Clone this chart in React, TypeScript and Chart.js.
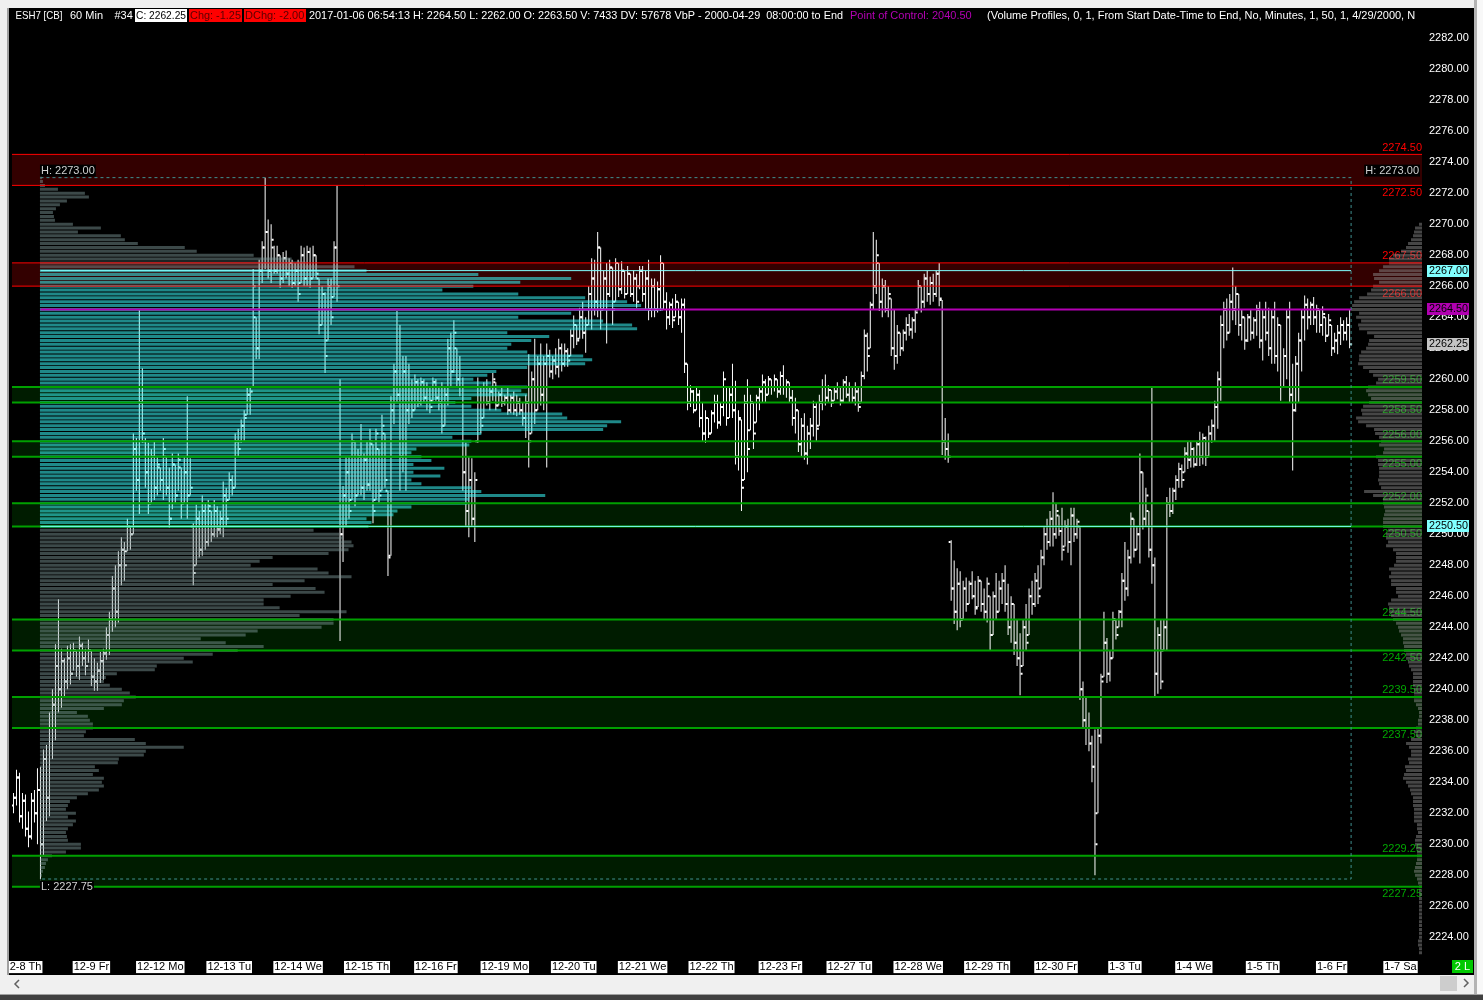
import React, { useEffect, useRef } from 'react';
import { Chart, registerables } from 'chart.js';

Chart.register(...registerables);

const FONT = '"Liberation Sans", Arial, sans-serif';

// ---------------- data ----------------
const DAY_LABELS = ['12-8 Th', '12-9 Fr', '12-12 Mo', '12-13 Tu', '12-14 We', '12-15 Th', '12-16 Fr', '12-19 Mo', '12-20 Tu', '12-21 We', '12-22 Th', '12-23 Fr', '12-27 Tu', '12-28 We', '12-29 Th', '12-30 Fr', '1-3 Tu', '1-4 We', '1-5 Th', '1-6 Fr', '1-7 Sa'];
const DAY_TICKS = [3, 26, 49, 72, 95, 118, 141, 164, 187, 210, 233, 256, 279, 302, 325, 348, 371, 394, 417, 440, 463];
const Y_TICKS = [2224, 2226, 2228, 2230, 2232, 2234, 2236, 2238, 2240, 2242, 2244, 2246, 2248, 2250, 2252, 2254, 2256, 2258, 2260, 2262, 2264, 2266, 2268, 2270, 2272, 2274, 2276, 2278, 2280, 2282];

const HIGHS = [
  2233.3, 2234.8, 2234.6, 2233.3, 2233.2, 2232.1, 2233.3, 2233.5, 2234.9, 2235.0,
  2236.1, 2236.4, 2238.5, 2240.0, 2242.9, 2245.8, 2242.6, 2242.0, 2242.8, 2242.9,
  2243.0, 2242.5, 2243.4, 2243.0, 2242.6, 2243.2, 2242.5, 2242.0, 2241.7, 2242.4,
  2242.6, 2244.0, 2245.0, 2247.3, 2248.0, 2248.9, 2249.8, 2249.5, 2251.0, 2250.5,
  2256.5, 2256.2, 2264.5, 2260.7, 2256.2, 2255.9, 2255.5, 2256.0, 2255.0, 2254.3,
  2256.2, 2255.0, 2254.3, 2255.2, 2254.5, 2255.2, 2254.3, 2255.0, 2258.9, 2254.9,
  2250.7, 2251.9, 2251.5, 2252.5, 2252.0, 2252.2, 2251.5, 2252.2, 2251.8, 2251.5,
  2253.4, 2253.0, 2254.0, 2253.8, 2256.5, 2256.8, 2257.4, 2258.0, 2259.5, 2259.5,
  2267.1, 2264.0, 2267.7, 2268.9, 2273.0, 2270.3, 2270.0, 2268.6, 2268.6, 2268.0,
  2268.2, 2268.3, 2267.8, 2267.7, 2267.5, 2267.7, 2268.6, 2268.5, 2268.6, 2268.5,
  2268.6, 2268.0, 2266.5, 2266.0, 2265.6, 2266.5, 2266.5, 2268.9, 2272.5, 2260.0,
  2253.1, 2255.0, 2255.0, 2256.5, 2256.0, 2255.5, 2257.1, 2255.2, 2256.0, 2256.8,
  2255.8, 2256.8, 2255.5, 2257.7, 2256.5, 2252.8, 2258.9, 2261.0, 2264.4, 2263.5,
  2261.5, 2261.5, 2261.0, 2260.0, 2260.3, 2260.0, 2260.1, 2260.0, 2259.8, 2259.5,
  2260.1, 2260.0, 2259.5, 2259.8, 2259.5, 2262.6, 2263.0, 2263.8, 2262.0, 2261.5,
  2260.1, 2255.9, 2255.0, 2254.9, 2254.0, 2260.1, 2259.5, 2259.8, 2260.0, 2259.5,
  2260.4, 2259.8, 2259.2, 2259.5, 2259.0, 2259.5, 2259.0, 2259.2, 2259.0, 2258.8,
  2258.5, 2259.0, 2261.6, 2260.5, 2262.6, 2261.5, 2262.3, 2261.5, 2262.3, 2261.9,
  2261.5, 2262.0, 2262.6, 2262.3, 2262.3, 2262.0, 2263.2, 2264.1, 2263.5, 2264.6,
  2265.0, 2264.0, 2266.0, 2267.8, 2267.7, 2269.5, 2268.5, 2267.0, 2267.5, 2267.7,
  2267.2, 2267.8, 2267.5, 2267.6, 2267.0, 2267.3, 2266.8, 2267.0, 2266.8, 2267.3,
  2267.3, 2267.0, 2267.7, 2266.5, 2266.5, 2266.3, 2268.0, 2267.5, 2265.6, 2265.0,
  2265.2, 2265.5, 2265.0, 2265.2, 2265.2, 2261.0, 2259.6, 2259.3, 2259.5, 2259.3,
  2258.5, 2258.0, 2257.5, 2258.0, 2259.0, 2259.0, 2258.5, 2260.5, 2259.5, 2259.5,
  2261.0, 2259.9, 2258.0, 2257.4, 2259.0, 2260.0, 2259.0, 2258.5, 2259.0, 2259.5,
  2260.3, 2260.0, 2260.2, 2260.0, 2260.3, 2260.0, 2260.5, 2260.9, 2260.0, 2259.8,
  2259.3, 2258.8, 2258.0, 2257.5, 2257.8, 2257.0, 2257.5, 2258.6, 2258.5, 2259.0,
  2260.0, 2260.3, 2259.6, 2259.3, 2259.5, 2259.8, 2259.5, 2260.0, 2260.2, 2259.8,
  2259.5, 2259.8, 2259.5, 2260.5, 2263.2, 2263.0, 2265.0, 2269.5, 2269.0, 2267.5,
  2266.5, 2266.4, 2266.0, 2265.2, 2264.5, 2263.5, 2263.0, 2263.2, 2264.0, 2264.2,
  2264.0, 2264.5, 2266.4, 2266.0, 2266.8, 2267.0, 2266.6, 2266.8, 2267.0, 2267.5,
  2265.1, 2257.5, 2256.5, 2249.6, 2248.3, 2247.8, 2247.6, 2247.0, 2247.2, 2247.0,
  2247.6, 2247.0, 2247.3, 2247.0, 2246.5, 2247.2, 2246.0, 2246.3, 2247.5, 2247.0,
  2247.5, 2248.0, 2246.8, 2246.0, 2245.5, 2244.5, 2243.6, 2244.5, 2245.5, 2246.5,
  2247.0, 2247.5, 2248.0, 2249.0, 2250.5, 2251.0, 2251.5, 2252.7, 2252.0, 2251.2,
  2251.7, 2250.9, 2251.0, 2251.7, 2251.7, 2251.0, 2250.5, 2240.5, 2239.5, 2238.5,
  2237.0, 2237.4, 2237.5, 2241.0, 2245.0, 2243.3, 2242.5, 2245.0, 2244.5, 2245.1,
  2247.5, 2249.5, 2249.0, 2251.4, 2251.0, 2250.5, 2255.2, 2254.0, 2253.0, 2251.5,
  2259.5, 2248.5, 2244.0, 2244.5, 2244.5, 2252.4, 2253.0, 2253.0, 2253.8, 2254.6,
  2254.5, 2255.6, 2256.0, 2256.0, 2255.6, 2256.0, 2256.6, 2256.5, 2256.3, 2257.0,
  2257.4, 2258.6, 2260.5, 2264.1, 2265.0, 2265.2, 2265.5, 2267.2, 2266.0, 2265.5,
  2264.5, 2264.0, 2264.2, 2264.5, 2264.0, 2264.8, 2265.0, 2264.5, 2265.0, 2264.6,
  2264.5, 2265.0, 2264.0, 2263.5, 2262.0, 2264.5, 2265.0, 2261.0, 2261.5, 2263.0,
  2264.5, 2265.4, 2265.2, 2265.0, 2265.3, 2264.8, 2264.5, 2264.7, 2264.0, 2264.2,
  2263.5, 2263.0, 2263.5, 2264.0, 2263.8, 2264.0, 2264.5,
];

const LOWS = [
  2232.0, 2232.5, 2231.4, 2231.0, 2230.5, 2229.8, 2230.3, 2231.4, 2230.0, 2227.75,
  2229.3, 2231.5, 2231.8, 2235.5, 2236.7, 2238.5, 2238.8, 2239.5, 2240.0, 2240.3,
  2241.2, 2240.8, 2240.6, 2241.5, 2240.9, 2241.7, 2240.2, 2239.9, 2239.9, 2240.4,
  2240.6, 2241.9, 2242.2, 2243.7, 2244.0, 2244.3, 2246.7, 2247.0, 2248.9, 2249.0,
  2250.0, 2252.8, 2251.3, 2255.9, 2253.0, 2251.3, 2252.0, 2252.2, 2252.5, 2252.8,
  2252.2, 2252.5, 2250.4, 2251.6, 2252.0, 2252.8, 2251.0, 2252.0, 2251.0, 2252.5,
  2246.7, 2248.0, 2248.5, 2248.6, 2249.0, 2249.2, 2249.5, 2249.8, 2249.8, 2250.0,
  2249.8, 2250.5, 2252.2, 2252.5, 2253.0, 2255.0, 2255.9, 2256.0, 2257.7, 2257.7,
  2259.5, 2261.3, 2261.3, 2266.2, 2267.1, 2266.5, 2266.2, 2266.8, 2266.8, 2265.9,
  2266.2, 2266.5, 2266.0, 2265.9, 2266.0, 2265.0, 2266.2, 2266.0, 2266.0, 2265.9,
  2266.5, 2266.5, 2262.9, 2263.5, 2260.4, 2262.5, 2263.5, 2265.3, 2265.0, 2243.1,
  2248.2, 2250.5, 2251.0, 2252.2, 2251.8, 2252.5, 2252.5, 2252.2, 2252.8, 2252.8,
  2250.7, 2252.2, 2252.0, 2252.8, 2253.0, 2247.3, 2248.6, 2257.1, 2258.5, 2252.8,
  2254.0, 2252.8, 2257.1, 2257.5, 2258.0, 2258.2, 2258.3, 2258.5, 2258.0, 2257.8,
  2258.6, 2258.6, 2258.0, 2256.5, 2257.0, 2258.3, 2259.5, 2260.4, 2259.5, 2258.9,
  2252.8, 2250.5, 2249.8, 2250.5, 2249.5, 2255.9, 2256.5, 2257.5, 2258.3, 2258.0,
  2258.6, 2258.0, 2258.3, 2258.2, 2258.3, 2257.7, 2257.8, 2257.7, 2257.6, 2257.7,
  2257.0, 2256.2, 2254.3, 2256.5, 2257.1, 2258.0, 2258.3, 2258.0, 2254.3, 2260.1,
  2260.0, 2260.3, 2260.1, 2260.5, 2260.8, 2260.8, 2261.5, 2262.0, 2262.2, 2262.6,
  2262.6, 2261.7, 2263.5, 2263.2, 2264.1, 2264.0, 2263.2, 2264.5, 2262.3, 2265.3,
  2263.5, 2265.0, 2265.3, 2265.5, 2265.2, 2265.5, 2265.3, 2265.0, 2264.6, 2265.8,
  2265.0, 2264.5, 2263.8, 2264.0, 2264.0, 2264.3, 2264.4, 2264.5, 2263.2, 2263.5,
  2263.3, 2264.0, 2263.5, 2263.0, 2260.4, 2258.0, 2258.2, 2257.8, 2258.0, 2256.9,
  2256.0, 2255.9, 2256.2, 2256.5, 2257.2, 2256.8, 2257.0, 2257.6, 2257.0, 2257.5,
  2257.5, 2254.5, 2254.1, 2251.5, 2253.5, 2254.0, 2256.7, 2255.5, 2257.2, 2258.0,
  2258.5, 2258.5, 2259.0, 2259.0, 2259.2, 2258.8, 2259.0, 2259.0, 2258.8, 2258.5,
  2257.0, 2256.5, 2255.3, 2255.0, 2254.8, 2254.5, 2255.5, 2256.3, 2256.0, 2257.0,
  2258.0, 2258.3, 2258.5, 2258.2, 2258.6, 2258.7, 2258.3, 2258.5, 2258.8, 2258.5,
  2258.5, 2258.3, 2257.9, 2258.5, 2260.0, 2260.5, 2262.0, 2264.5, 2265.5, 2264.4,
  2264.0, 2264.3, 2264.0, 2261.5, 2260.6, 2261.0, 2261.5, 2261.8, 2262.5, 2262.8,
  2262.6, 2263.0, 2264.5, 2264.3, 2264.6, 2265.0, 2264.8, 2265.0, 2265.3, 2264.7,
  2255.1, 2254.8, 2254.6, 2245.7, 2244.2, 2243.8, 2244.0, 2244.5, 2245.0, 2245.5,
  2245.8, 2244.8, 2245.3, 2245.0, 2244.5, 2244.3, 2242.5, 2243.5, 2244.5, 2245.0,
  2245.5, 2245.0, 2243.5, 2243.0, 2242.2, 2241.5, 2239.6, 2241.5, 2242.5, 2243.5,
  2244.8, 2245.3, 2245.5, 2246.5, 2248.0, 2249.0, 2249.2, 2249.2, 2249.7, 2249.9,
  2248.3, 2249.2, 2248.8, 2248.0, 2249.5, 2249.7, 2239.3, 2237.5, 2236.4, 2236.0,
  2234.0, 2228.0, 2232.0, 2236.5, 2240.8, 2240.4, 2240.5, 2242.0, 2243.2, 2244.0,
  2244.0, 2245.7, 2246.0, 2248.1, 2248.5, 2249.0, 2248.1, 2250.3, 2250.5, 2248.5,
  2246.8, 2239.5, 2239.7, 2240.0, 2242.5, 2242.5, 2251.1, 2251.3, 2252.2, 2253.0,
  2253.0, 2254.0, 2254.2, 2254.3, 2254.3, 2254.4, 2254.4, 2254.5, 2254.4, 2255.0,
  2255.9, 2256.0, 2256.8, 2258.6, 2262.0, 2262.5, 2263.0, 2263.8, 2263.5, 2262.8,
  2262.5, 2261.9, 2262.4, 2262.5, 2262.6, 2262.8, 2262.0, 2261.2, 2262.5, 2261.5,
  2261.0, 2261.0, 2260.5, 2258.6, 2259.5, 2260.0, 2258.5, 2254.1, 2257.9, 2258.5,
  2260.5, 2262.5, 2263.2, 2263.5, 2263.5, 2263.0, 2263.0, 2262.8, 2262.4, 2262.8,
  2261.5, 2261.7, 2261.6, 2262.2, 2262.5, 2262.5, 2262.0,
];

const OPENS = [
  2232.5, 2233.0, 2234.3, 2231.8, 2232.8, 2231.0, 2230.5, 2232.8, 2232.0, 2233.5,
  2230.0, 2235.5, 2233.0, 2237.5, 2239.0, 2241.5, 2240.0, 2241.8, 2240.5, 2242.0,
  2241.0, 2242.5, 2241.5, 2242.8, 2242.0, 2241.5, 2242.5, 2240.8, 2240.5, 2241.2,
  2241.8, 2242.3, 2243.5, 2244.5, 2246.5, 2245.0, 2248.0, 2249.0, 2248.9, 2250.5,
  2250.0, 2255.5, 2253.5, 2258.5, 2256.0, 2254.0, 2252.0, 2255.0, 2253.0, 2254.3,
  2253.5, 2255.0, 2253.0, 2251.0, 2254.5, 2252.5, 2254.3, 2252.0, 2254.0, 2252.5,
  2250.5, 2248.0, 2251.0, 2249.0, 2251.5, 2249.5, 2251.5, 2250.0, 2251.5, 2250.3,
  2251.0, 2252.5, 2252.2, 2253.5, 2253.0, 2256.0, 2256.0, 2257.0, 2257.7, 2259.0,
  2259.5, 2264.0, 2262.0, 2267.0, 2268.5, 2269.5, 2267.0, 2268.5, 2267.0, 2268.0,
  2266.5, 2267.8, 2266.8, 2267.5, 2266.2, 2267.0, 2266.2, 2268.0, 2266.5, 2268.2,
  2266.5, 2268.0, 2266.5, 2263.5, 2265.5, 2262.5, 2266.0, 2265.3, 2268.5, 2259.5,
  2250.0, 2252.5, 2254.0, 2252.2, 2256.0, 2252.5, 2255.0, 2253.0, 2254.8, 2253.2,
  2255.8, 2252.2, 2255.5, 2252.8, 2256.5, 2252.8, 2248.6, 2258.0, 2260.5, 2259.0,
  2255.0, 2260.5, 2258.0, 2259.5, 2258.0, 2259.8, 2258.5, 2259.8, 2258.8, 2259.5,
  2258.6, 2259.8, 2258.8, 2258.5, 2257.0, 2259.0, 2262.0, 2260.5, 2262.0, 2260.0,
  2259.5, 2254.0, 2251.5, 2253.5, 2251.0, 2256.0, 2259.5, 2257.5, 2259.5, 2258.5,
  2259.2, 2259.8, 2258.3, 2259.0, 2258.5, 2258.8, 2258.0, 2258.8, 2258.0, 2258.5,
  2258.0, 2257.5, 2258.5, 2256.5, 2260.0, 2258.0, 2261.0, 2259.0, 2261.0, 2261.5,
  2260.5, 2261.2, 2260.8, 2262.0, 2261.0, 2261.8, 2261.5, 2262.8, 2263.5, 2262.6,
  2264.0, 2263.0, 2263.5, 2265.5, 2266.5, 2265.0, 2268.5, 2264.5, 2266.5, 2265.5,
  2267.2, 2265.0, 2267.5, 2265.8, 2267.0, 2265.5, 2266.8, 2265.5, 2266.5, 2266.0,
  2267.0, 2265.5, 2266.5, 2264.5, 2266.0, 2264.5, 2265.8, 2267.5, 2265.0, 2264.0,
  2264.8, 2264.0, 2265.0, 2264.0, 2264.8, 2261.0, 2258.5, 2259.2, 2258.0, 2259.0,
  2257.5, 2256.5, 2257.5, 2256.5, 2257.8, 2258.5, 2257.2, 2258.2, 2259.5, 2257.5,
  2259.0, 2258.0, 2255.0, 2257.4, 2253.5, 2258.5, 2256.7, 2258.5, 2257.2, 2258.8,
  2259.2, 2259.8, 2259.0, 2260.0, 2259.5, 2260.0, 2259.2, 2260.2, 2259.5, 2259.8,
  2258.8, 2257.5, 2258.0, 2255.8, 2257.0, 2255.2, 2256.5, 2257.0, 2258.2, 2257.0,
  2258.5, 2259.5, 2258.8, 2259.3, 2258.6, 2259.2, 2259.5, 2258.6, 2259.8, 2259.0,
  2259.5, 2258.8, 2259.2, 2258.5, 2260.2, 2262.8, 2262.0, 2264.8, 2266.0, 2267.5,
  2265.0, 2266.0, 2264.5, 2265.2, 2262.0, 2261.5, 2263.0, 2262.0, 2263.0, 2263.5,
  2263.2, 2263.8, 2264.5, 2266.0, 2265.0, 2266.5, 2265.5, 2266.2, 2265.5, 2266.8,
  2265.1, 2256.0, 2255.5, 2249.5, 2246.5, 2245.0, 2246.8, 2244.5, 2246.5, 2245.5,
  2246.8, 2246.0, 2245.3, 2247.0, 2245.5, 2245.0, 2246.0, 2243.5, 2246.0, 2245.0,
  2246.5, 2247.0, 2245.5, 2244.0, 2245.5, 2243.0, 2242.0, 2241.5, 2244.0, 2243.5,
  2246.0, 2245.5, 2247.0, 2246.5, 2248.5, 2250.0, 2249.5, 2251.0, 2250.0, 2251.2,
  2250.2, 2249.2, 2250.5, 2249.5, 2251.2, 2250.0, 2250.5, 2240.0, 2238.0, 2237.5,
  2236.5, 2235.0, 2232.0, 2237.0, 2240.8, 2243.0, 2241.0, 2242.0, 2244.5, 2244.0,
  2245.0, 2247.0, 2246.5, 2248.5, 2251.0, 2249.0, 2250.0, 2254.0, 2251.0, 2251.5,
  2249.0, 2248.0, 2241.0, 2243.5, 2242.5, 2244.0, 2252.0, 2251.5, 2252.8, 2253.5,
  2254.2, 2254.0, 2255.2, 2254.8, 2255.5, 2254.5, 2255.8, 2255.0, 2256.2, 2255.0,
  2256.5, 2257.0, 2258.2, 2260.0, 2263.5, 2264.5, 2263.0, 2265.0, 2264.5, 2265.5,
  2263.5, 2264.0, 2262.5, 2264.0, 2263.0, 2263.8, 2264.5, 2262.5, 2264.0, 2263.0,
  2262.0, 2264.0, 2261.5, 2263.5, 2259.5, 2261.5, 2264.0, 2259.0, 2258.0, 2261.0,
  2262.5, 2264.0, 2264.8, 2264.0, 2264.8, 2264.0, 2264.5, 2263.5, 2264.0, 2262.8,
  2263.5, 2262.0, 2262.5, 2263.0, 2263.5, 2263.0, 2263.5,
];

const CLOSES = [
  2233.0, 2234.3, 2231.8, 2232.8, 2231.0, 2230.5, 2232.8, 2232.0, 2233.5, 2230.0,
  2235.5, 2233.0, 2237.5, 2239.0, 2241.5, 2240.0, 2241.8, 2240.5, 2242.0, 2241.0,
  2242.5, 2241.5, 2242.8, 2242.0, 2241.5, 2242.5, 2240.8, 2240.5, 2241.2, 2241.8,
  2242.3, 2243.5, 2244.5, 2246.5, 2245.0, 2248.0, 2249.0, 2248.0, 2250.5, 2250.0,
  2255.5, 2253.5, 2258.5, 2256.5, 2254.0, 2252.0, 2255.0, 2253.0, 2254.5, 2253.5,
  2255.5, 2253.0, 2251.0, 2254.5, 2252.5, 2254.8, 2252.0, 2254.0, 2252.5, 2253.0,
  2247.5, 2251.0, 2249.0, 2251.5, 2249.5, 2251.8, 2250.0, 2251.5, 2250.3, 2251.0,
  2252.5, 2251.0, 2253.5, 2253.0, 2256.0, 2255.5, 2257.0, 2257.5, 2259.0, 2259.2,
  2266.0, 2262.0, 2267.0, 2268.5, 2269.5, 2267.0, 2269.0, 2267.0, 2268.0, 2266.5,
  2267.8, 2266.8, 2267.5, 2266.2, 2267.0, 2265.5, 2268.0, 2266.5, 2268.2, 2266.5,
  2268.0, 2266.8, 2263.5, 2265.5, 2261.5, 2266.0, 2264.0, 2268.5, 2266.0, 2250.0,
  2252.5, 2254.0, 2251.5, 2256.0, 2252.5, 2255.0, 2253.0, 2254.8, 2253.2, 2256.0,
  2251.5, 2256.5, 2252.5, 2257.0, 2253.5, 2248.5, 2258.0, 2260.5, 2259.0, 2255.0,
  2260.5, 2258.0, 2259.5, 2258.0, 2259.8, 2258.5, 2259.8, 2258.8, 2259.5, 2258.2,
  2259.8, 2258.8, 2258.5, 2257.0, 2259.0, 2262.0, 2260.5, 2263.0, 2260.0, 2259.5,
  2254.0, 2251.5, 2253.5, 2251.0, 2253.5, 2259.5, 2257.0, 2259.5, 2258.5, 2259.2,
  2260.0, 2258.3, 2259.0, 2258.5, 2258.8, 2258.0, 2258.8, 2258.0, 2258.5, 2258.0,
  2257.5, 2258.5, 2256.0, 2260.0, 2258.0, 2261.0, 2259.0, 2261.0, 2261.5, 2260.5,
  2261.2, 2260.8, 2262.0, 2261.0, 2261.8, 2261.2, 2262.8, 2263.5, 2262.5, 2264.0,
  2263.0, 2263.5, 2265.5, 2266.5, 2265.0, 2268.5, 2264.5, 2266.5, 2265.5, 2267.2,
  2264.5, 2267.5, 2265.8, 2267.0, 2265.5, 2266.8, 2265.5, 2266.5, 2265.0, 2267.0,
  2265.5, 2266.5, 2264.5, 2266.0, 2264.5, 2265.8, 2267.5, 2265.0, 2264.0, 2264.8,
  2263.8, 2265.0, 2264.0, 2264.8, 2261.0, 2258.5, 2259.2, 2258.0, 2259.0, 2257.5,
  2256.5, 2257.5, 2256.5, 2257.8, 2258.5, 2257.2, 2258.2, 2260.0, 2257.5, 2259.0,
  2258.0, 2255.0, 2257.5, 2253.0, 2258.5, 2255.5, 2258.5, 2256.5, 2258.8, 2259.2,
  2259.8, 2259.0, 2260.0, 2259.5, 2260.0, 2259.2, 2260.2, 2259.5, 2259.8, 2258.8,
  2257.5, 2258.0, 2255.8, 2257.0, 2255.2, 2256.5, 2257.0, 2258.2, 2256.8, 2258.5,
  2259.5, 2258.8, 2259.3, 2258.5, 2259.2, 2259.5, 2258.6, 2259.8, 2259.0, 2259.5,
  2258.8, 2259.2, 2258.2, 2260.2, 2262.8, 2261.5, 2264.8, 2266.0, 2268.0, 2265.0,
  2266.0, 2264.5, 2265.5, 2262.0, 2261.5, 2263.0, 2262.0, 2263.0, 2263.5, 2263.2,
  2263.8, 2264.3, 2266.0, 2265.0, 2266.5, 2265.5, 2266.2, 2265.5, 2266.8, 2265.2,
  2256.0, 2255.5, 2255.0, 2246.5, 2245.0, 2246.8, 2244.5, 2246.5, 2245.5, 2246.8,
  2246.0, 2245.2, 2247.0, 2245.5, 2245.0, 2246.8, 2243.5, 2246.0, 2245.0, 2246.5,
  2247.0, 2245.5, 2244.0, 2245.5, 2243.0, 2242.0, 2241.0, 2244.0, 2243.0, 2246.0,
  2245.5, 2247.0, 2246.0, 2248.5, 2250.0, 2249.5, 2251.0, 2250.0, 2251.5, 2250.2,
  2249.0, 2250.5, 2249.5, 2251.2, 2250.0, 2250.8, 2240.0, 2238.0, 2237.5, 2236.5,
  2235.0, 2230.0, 2237.0, 2240.5, 2243.0, 2241.0, 2242.0, 2244.5, 2243.5, 2245.0,
  2247.0, 2246.5, 2248.5, 2251.0, 2249.0, 2250.0, 2254.0, 2251.0, 2252.5, 2249.0,
  2248.0, 2241.0, 2243.5, 2240.5, 2244.0, 2252.0, 2251.5, 2252.8, 2253.5, 2254.2,
  2253.5, 2255.2, 2254.8, 2255.5, 2254.5, 2255.8, 2255.0, 2256.2, 2255.0, 2256.5,
  2257.0, 2258.2, 2260.0, 2263.5, 2264.5, 2263.0, 2265.0, 2264.5, 2265.5, 2263.5,
  2264.0, 2262.5, 2264.0, 2263.0, 2263.8, 2264.5, 2262.5, 2264.0, 2263.0, 2262.0,
  2264.0, 2261.5, 2263.5, 2259.5, 2261.5, 2264.0, 2259.0, 2258.0, 2261.0, 2262.5,
  2264.0, 2264.8, 2264.0, 2264.8, 2264.0, 2264.5, 2263.5, 2264.2, 2262.8, 2263.8,
  2262.0, 2262.5, 2263.0, 2263.5, 2263.0, 2263.5, 2262.25,
];

// volume profile rows (0.25 per row), left profile from 2273.00 downward
const PROFILE_TOP = 2273.0;
const PROFILE_TICK = 0.25;
const LEFT_PROFILE = [
  2, 3, 5, 18, 45, 49, 27, 20, 16, 13, 14, 15, 33, 61, 38, 81, 85, 98, 145, 157, 214, 252, 266, 315,
  327, 439, 532, 481, 434, 403, 479, 546, 588, 602, 624, 532, 479, 564, 593, 598, 468, 510, 492, 472,
  468, 488, 544, 553, 546, 488, 457, 448, 434, 452, 488, 482, 488, 432, 416, 432, 462, 523, 528, 582,
  568, 564, 442, 413, 432, 430, 377, 372, 382, 392, 374, 405, 374, 401, 372, 382, 432, 442, 506, 430,
  428, 372, 358, 354, 327, 332, 329,
  274, 300, 303, 312, 314, 309, 289, 233, 220, 211, 278, 289, 312, 265, 233, 276, 285, 251, 224, 224,
  240, 307, 260, 294, 294, 282, 218, 206, 161, 186, 224, 198, 173, 144, 153, 117, 115, 77, 66, 64,
  70, 82, 90, 96, 84, 82, 64, 37, 48, 50, 53, 53, 46, 44, 95, 106, 144, 106, 104, 79,
  78, 55, 59, 53, 64, 62, 64, 59, 48, 37, 30, 28, 26, 36, 28, 36, 33, 28, 26, 27,
  28, 41, 41, 26, 12, 8, 6, 5, 3, 2, 1,
];
// right-edge profile from 2270.00 downward
const RIGHT_PROFILE_TOP = 2270.0;
const RIGHT_PROFILE = [
  3, 7, 8, 9, 11, 14, 16, 21, 29, 33, 33, 39, 43, 49, 48, 43, 49, 51, 55, 63, 68, 70, 71, 63, 66, 61, 64, 63, 55, 48, 53, 54, 56, 61, 63, 63, 64, 59, 53, 49,
  44, 46, 54, 56, 54, 51, 53, 59, 61, 60, 66, 64, 56, 48, 47, 43, 41, 43, 38, 39, 46, 44, 44, 43, 43, 43, 44, 43, 41, 58, 49, 39, 39, 38, 37, 38, 39, 39, 39, 34,
  36, 36, 34, 36, 29, 26, 26, 26, 28, 33, 31, 33, 31, 31, 26, 26, 24, 31, 34, 33, 33, 31, 29, 26, 24, 23, 21, 19, 19, 18, 18, 16, 16, 14, 13, 11, 9, 9,
  9, 9, 8, 8, 8, 8, 6, 4, 3, 3, 4, 4, 6, 8, 6, 11, 16, 13, 11, 11, 14, 13, 17, 16, 18, 19, 16, 14, 12, 11, 9, 9, 9, 8, 8, 8, 8, 5, 5, 4,
  6, 7, 7, 6, 5, 5, 5, 6, 7, 8, 7, 5, 4, 3, 3, 3, 3, 3, 3, 3, 3, 3, 3, 3, 3, 3, 3, 4, 4, 3, 3,
];

const VAH = 2267.0;
const VAL = 2250.5;
const POC = 2264.5;
const LAST_PRICE = 2262.25;
const PROFILE_HIGH = 2273.0;
const PROFILE_LOW = 2227.75;
const PROFILE_START_BAR = 9;
const RED_ZONES = [[2274.5, 2272.5], [2267.5, 2266.0]];
const GREEN_ZONES = [[2259.5, 2258.5], [2256.0, 2255.0], [2252.0, 2250.5], [2244.5, 2242.5], [2239.5, 2237.5], [2229.25, 2227.25]];

// ---------------- layout constants ----------------
const X_MIN = -0.5;
const X_MAX = 470.1666667;
const Y_MIN = 2222.75;
const Y_MAX = 2282.75;
const LAST_BAR = HIGHS.length - 1;

function fitText(ctx: CanvasRenderingContext2D, text: string, x: number, y: number, maxW?: number) {
  const w = ctx.measureText(text).width;
  if (maxW && w > maxW) {
    ctx.save();
    ctx.translate(x, y);
    ctx.scale(maxW / w, 1);
    ctx.fillText(text, 0, 0);
    ctx.restore();
  } else {
    ctx.fillText(text, x, y);
  }
}

const overlayPlugin = {
  id: 'overlay',
  beforeDatasetsDraw(chart: any) {
    const ctx: CanvasRenderingContext2D = chart.ctx;
    const y = chart.scales.y;
    const right = chart.chartArea.right;
    ctx.save();
    ctx.font = `11px ${FONT}`;
    ctx.textAlign = 'right';
    const put = (zones: number[][], color: string) => {
      ctx.fillStyle = color;
      zones.forEach(([a, b]) => {
        ctx.textBaseline = 'bottom';
        ctx.fillText(a.toFixed(2), right, y.getPixelForValue(a) - 1);
        ctx.textBaseline = 'top';
        ctx.fillText(b.toFixed(2), right, y.getPixelForValue(b) + 2);
      });
    };
    put(RED_ZONES, '#ff0000');
    put(GREEN_ZONES, '#00a800');
    ctx.restore();
  },
  afterDatasetsDraw(chart: any) {
    const ctx: CanvasRenderingContext2D = chart.ctx;
    const y = chart.scales.y;
    const xl = chart.scales.xl;
    ctx.save();
    ctx.font = `11px ${FONT}`;
    ctx.textBaseline = 'middle';
    const tag = (text: string, x: number, yc: number, alignRight: boolean) => {
      const w = ctx.measureText(text).width + 2;
      const left = alignRight ? x - w : x;
      ctx.fillStyle = '#000';
      ctx.fillRect(left, yc - 6, w, 12);
      ctx.fillStyle = '#d0d0d0';
      ctx.textAlign = 'left';
      ctx.fillText(text, left + 1, yc);
    };
    const x0 = xl.getPixelForValue(0);
    const yH = y.getPixelForValue(PROFILE_HIGH);
    const yL = y.getPixelForValue(PROFILE_LOW);
    tag('H: ' + PROFILE_HIGH.toFixed(2), x0, yH - 7, false);
    tag('H: ' + PROFILE_HIGH.toFixed(2), chart.chartArea.right - 2, yH - 7, true);
    tag('L: ' + PROFILE_LOW.toFixed(2), x0, yL + 8, false);
    ctx.restore();
  },
  afterDraw(chart: any) {
    const ctx: CanvasRenderingContext2D = chart.ctx;
    const y = chart.scales.y;
    const ax = chart.chartArea.right;
    ctx.save();
    ctx.font = `11px ${FONT}`;
    ctx.textBaseline = 'middle';
    ctx.textAlign = 'left';
    // highlighted price labels on the axis
    const hl = (v: number, bg: string, fg: string) => {
      const yc = y.getPixelForValue(v);
      ctx.fillStyle = bg;
      ctx.fillRect(ax + 5, Math.round(yc) - 6, 42, 12);
      ctx.fillStyle = fg;
      fitText(ctx, v.toFixed(2), ax + 7, yc, 39);
    };
    hl(VAH, '#80ffff', '#000');
    hl(POC, '#b000b0', '#000');
    hl(LAST_PRICE, '#c4c4c4', '#000');
    hl(VAL, '#80ffff', '#000');

    // header line
    const ym = 8;
    const seg = (text: string, x: number, w: number, color: string, bg?: string, bw?: number) => {
      if (bg) {
        ctx.fillStyle = bg;
        ctx.fillRect(x, 1, bw as number, 13);
      }
      ctx.fillStyle = color;
      fitText(ctx, text, bg ? x + 1 : x, ym, w);
    };
    seg('ESH7 [CB]', 6.5, 47, '#fff');
    seg('60 Min', 61, 35, '#fff');
    seg('#34', 105.5, 20, '#fff');
    seg('C: 2262.25', 126, 50, '#000', '#ffffff', 52);
    seg('Chg: -1.25', 180, 51, '#5a0000', '#ff0000', 53);
    seg('DChg: -2.00', 235, 60, '#5a0000', '#ff0000', 62);
    seg('2017-01-06 06:54:13 H: 2264.50 L: 2262.00 O: 2263.50 V: 7433 DV: 57678 VbP - 2000-04-29  08:00:00 to End', 300, 534, '#fff');
    seg('Point of Control: 2040.50', 841, 128, '#b400b4');
    seg('(Volume Profiles, 0, 1, From Start Date-Time to End, No, Minutes, 1, 50, 1, 4/29/2000, N', 978, 437, '#fff');

    // bottom-right indicator
    ctx.fillStyle = '#00c800';
    ctx.fillRect(1443, 952, 21, 13);
    ctx.fillStyle = '#fff';
    ctx.textAlign = 'center';
    ctx.fillText('2 L', 1453.5, 958.5);
    ctx.restore();
  },
};

function buildDatasets() {
  const ds: any[] = [];
  const flat = (level: number, color: string, width: number, x0: number, x1: number, order: number, dash?: number[]) => ({
    type: 'line',
    data: [{ x: x0, y: level }, { x: x1, y: level }],
    borderColor: color,
    borderWidth: width,
    borderDash: dash || [],
    pointRadius: 0,
    fill: false,
    order,
    xAxisID: 'x',
    yAxisID: 'y',
  });
  const band = (a: number, b: number, color: string) => ({
    type: 'line',
    data: [{ x: X_MIN, y: a }, { x: X_MAX, y: a }],
    borderWidth: 0,
    pointRadius: 0,
    fill: { value: b },
    backgroundColor: color,
    order: 20,
    xAxisID: 'x',
    yAxisID: 'y',
  });
  RED_ZONES.forEach(([a, b]) => ds.push(band(a, b, '#330000')));
  GREEN_ZONES.forEach(([a, b]) => ds.push(band(a, b, '#001c00')));

  // OHLC bars
  ds.push({
    type: 'bar',
    data: HIGHS.map((h, i) => ({ x: i, y: [LOWS[i], h] })),
    backgroundColor: '#ffffff',
    barThickness: 1,
    maxBarThickness: 1,
    grouped: false,
    inflateAmount: 0,
    borderWidth: 0,
    order: 10,
    xAxisID: 'x',
    yAxisID: 'y',
  });
  const tick = (vals: number[], dx: number) => ({
    type: 'scatter',
    data: vals.map((v, i) => ({ x: i + dx, y: v })),
    pointStyle: 'line',
    pointRadius: 1,
    pointHoverRadius: 1,
    pointBorderWidth: 2,
    pointHoverBorderWidth: 2,
    pointBorderColor: '#ffffff',
    pointBackgroundColor: '#ffffff',
    order: 10,
    xAxisID: 'x',
    yAxisID: 'y',
  });
  ds.push(tick(OPENS, -0.5));
  ds.push(tick(CLOSES, 0.5));

  // left volume profile
  const inVA: any[] = [];
  const outVA: any[] = [];
  LEFT_PROFILE.forEach((v, k) => {
    const p = PROFILE_TOP - k * PROFILE_TICK;
    (p <= VAH && p >= VAL ? inVA : outVA).push({ y: p, x: [0, v] });
  });
  const prof = (data: any[], color: string, xAxisID: string) => ({
    type: 'bar',
    indexAxis: 'y',
    data,
    backgroundColor: color,
    barThickness: 3,
    maxBarThickness: 3,
    grouped: false,
    inflateAmount: 0,
    borderWidth: 0,
    order: 5,
    xAxisID,
    yAxisID: 'y',
  });
  ds.push(prof(outVA, 'rgba(128,155,155,0.47)', 'xl'));
  ds.push(prof(inVA, 'rgba(56,250,250,0.55)', 'xl'));
  ds.push(prof(RIGHT_PROFILE.map((v, j) => ({ y: RIGHT_PROFILE_TOP - j * PROFILE_TICK, x: [0, v] })), 'rgba(140,140,140,0.5)', 'xr'));

  // zone boundary lines
  RED_ZONES.forEach(([a, b]) => {
    ds.push(flat(a, '#ff0000', 1, X_MIN, X_MAX, 2));
    ds.push(flat(b, '#ff0000', 1, X_MIN, X_MAX, 2));
  });
  GREEN_ZONES.forEach(([a, b]) => {
    ds.push(flat(a, '#00a000', 2, X_MIN, X_MAX, 2));
    ds.push(flat(b, '#00a000', 2, X_MIN, X_MAX, 2));
  });
  // value area + point of control
  const endX = LAST_BAR + 0.5;
  ds.push(flat(VAH, '#80ffff', 1, PROFILE_START_BAR, endX, 1));
  ds.push(flat(VAL, '#80ffff', 1, PROFILE_START_BAR, endX, 1));
  ds.push(flat(POC, '#b400b4', 2, PROFILE_START_BAR, endX, 1));
  // profile range box (dashed)
  ds.push({
    type: 'line',
    data: [
      { x: PROFILE_START_BAR, y: PROFILE_HIGH },
      { x: endX, y: PROFILE_HIGH },
      { x: endX, y: PROFILE_LOW },
      { x: PROFILE_START_BAR, y: PROFILE_LOW },
    ],
    borderColor: '#3f8f8f',
    borderWidth: 1,
    borderDash: [3, 3],
    pointRadius: 0,
    fill: false,
    order: 1,
    xAxisID: 'x',
    yAxisID: 'y',
  });
  return ds;
}

export default function App() {
  const ref = useRef<HTMLCanvasElement>(null);
  useEffect(() => {
    document.body.style.margin = '0';
    const chart = new Chart(ref.current as HTMLCanvasElement, {
      type: 'bar',
      data: { datasets: buildDatasets() },
      options: {
        responsive: false,
        animation: false,
        devicePixelRatio: 1,
        events: [],
        layout: { padding: { top: 18.5, left: 1, right: 0, bottom: 0 } },
        plugins: { legend: { display: false }, tooltip: { enabled: false }, title: { display: false } },
        scales: {
          x: {
            type: 'linear',
            position: 'bottom',
            min: X_MIN,
            max: X_MAX,
            offset: false,
            grid: { display: false, drawTicks: false },
            border: { display: false },
            afterBuildTicks: (s: any) => {
              s.ticks = DAY_TICKS.map((v) => ({ value: v }));
            },
            afterFit: (s: any) => {
              s.height = 18.5;
              s.paddingLeft = 0;
              s.paddingRight = 0;
            },
            ticks: {
              autoSkip: false,
              maxRotation: 0,
              minRotation: 0,
              padding: 4.5,
              color: '#000',
              font: { family: FONT, size: 11, lineHeight: 1.1 },
              showLabelBackdrop: true,
              backdropColor: '#ffffff',
              backdropPadding: { top: 0, bottom: 0, left: 1, right: 1 },
              callback: (_v: any, i: number) => DAY_LABELS[i],
            },
          },
          y: {
            type: 'linear',
            position: 'right',
            min: Y_MIN,
            max: Y_MAX,
            offset: false,
            grid: { display: false, drawTicks: false },
            border: { display: false },
            afterBuildTicks: (s: any) => {
              s.ticks = Y_TICKS.map((v) => ({ value: v }));
            },
            afterFit: (s: any) => {
              s.width = 52;
              s.paddingTop = 0;
              s.paddingBottom = 0;
            },
            ticks: {
              autoSkip: false,
              padding: 7,
              color: '#ffffff',
              font: { family: FONT, size: 11 },
              callback: (v: any) => Number(v).toFixed(2),
            },
          },
          xl: { type: 'linear', axis: 'x', display: false, min: -28, max: 1384, offset: false },
          xr: { type: 'linear', axis: 'x', display: false, reverse: true, min: 0, max: 1412, offset: false },
        },
      } as any,
      plugins: [overlayPlugin],
    } as any);
    return () => chart.destroy();
  }, []);

  const abs = (s: any) => ({ position: 'absolute', ...s });
  return (
    <div style={{ position: 'fixed', left: 0, top: 0, width: 1483, height: 1000, background: '#f0f0f0', overflow: 'hidden' }}>
      <div style={abs({ left: 7, top: 8, width: 2, height: 967, background: '#a0a0a0' })} />
      <div style={abs({ left: 9, top: 8, width: 1465, height: 967, background: '#000' })}>
        <canvas ref={ref} width={1465} height={967} style={{ display: 'block', width: 1465, height: 967, background: '#000' }} />
      </div>
      <div style={abs({ left: 1474, top: 0, width: 3, height: 995, background: '#b4b4b4' })} />
      <div style={abs({ left: 1477, top: 0, width: 6, height: 995, background: '#f8f8f8' })} />
      <svg style={abs({ left: 13, top: 979 })} width={8} height={10}>
        <polyline points="6,1 2,5 6,9" fill="none" stroke="#606060" strokeWidth={1.5} />
      </svg>
      <div style={abs({ left: 1440, top: 976, width: 17, height: 15, background: '#cdcdcd' })} />
      <svg style={abs({ left: 1462, top: 978 })} width={8} height={10}>
        <polyline points="2,1 6,5 2,9" fill="none" stroke="#606060" strokeWidth={1.5} />
      </svg>
      <div style={abs({ left: 0, top: 994, width: 1483, height: 1, background: '#a0a0a0' })} />
      <div style={abs({ left: 0, top: 995, width: 1483, height: 5, background: '#404040' })} />
    </div>
  );
}
